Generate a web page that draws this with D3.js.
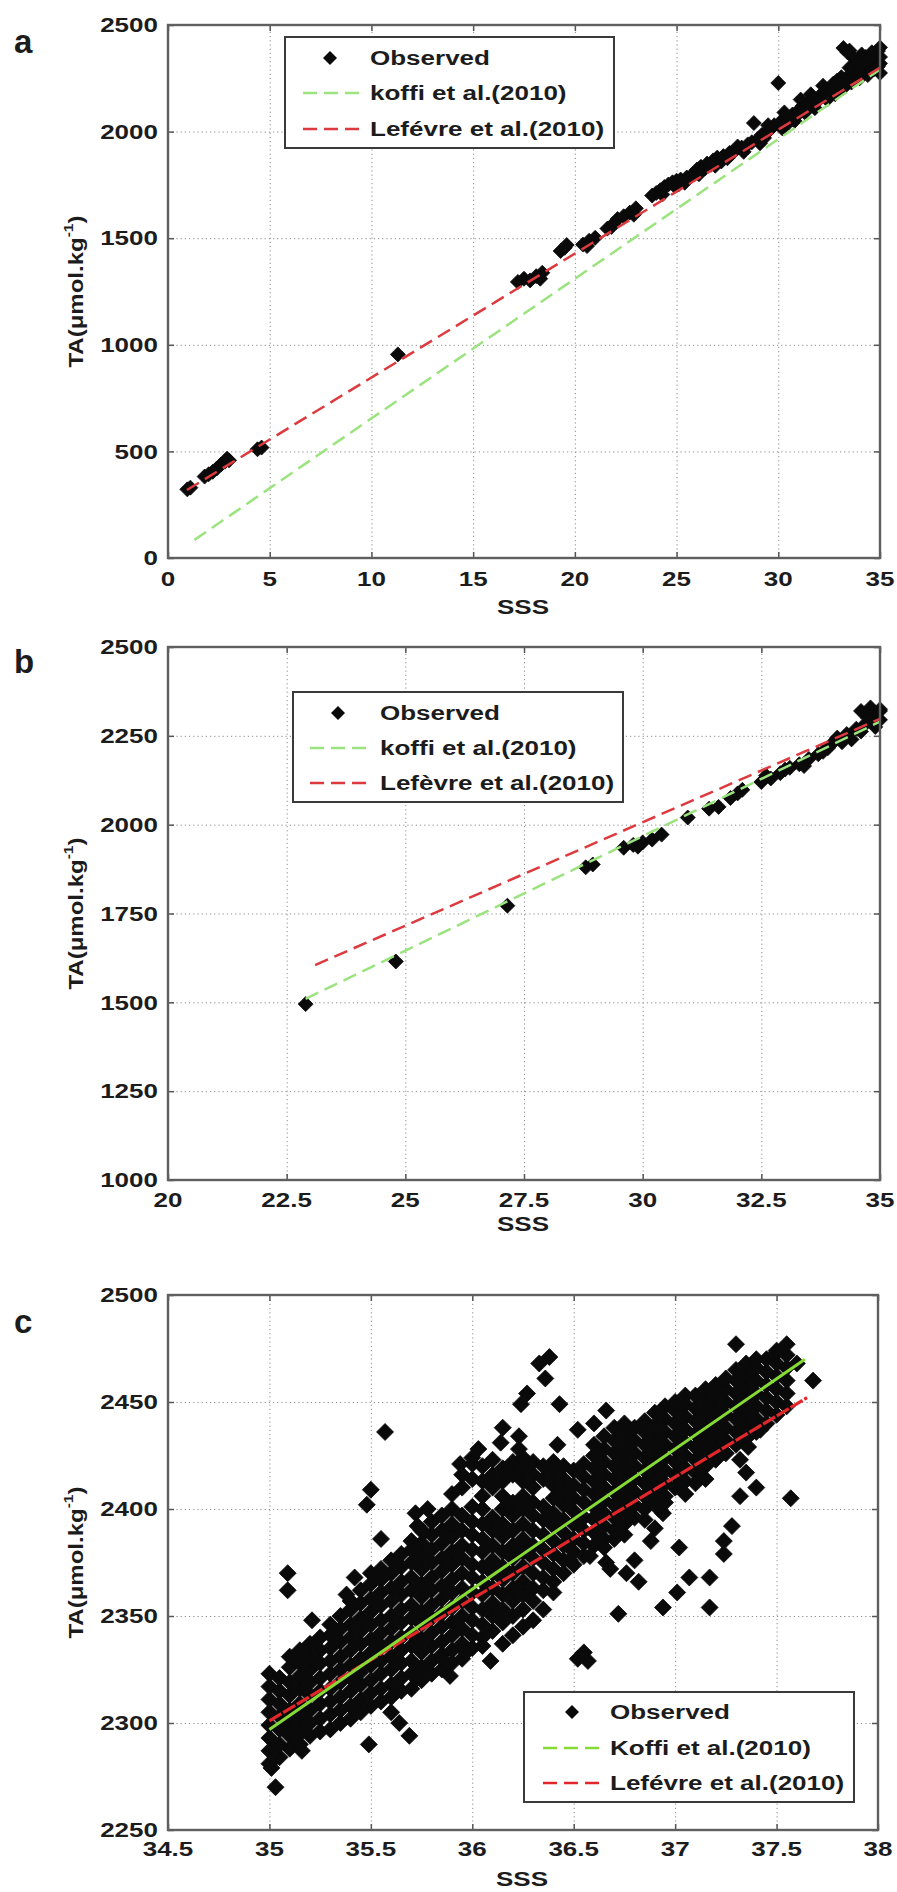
<!DOCTYPE html>
<html><head><meta charset="utf-8">
<script src="https://cdn.jsdelivr.net/npm/d3@7/dist/d3.min.js"></script>
<style>
body{margin:0;background:#fff}
svg{display:block}
text{font-family:"Liberation Sans",Arial,Helvetica,sans-serif;font-weight:bold;fill:#1c1c1c}
</style>
</head><body>
<svg id="chart" width="897" height="1892"></svg>
<script>
// ---------- tick values ----------
const xTicksA = [0,5,10,15,20,25,30,35];
const yTicksA = [0,500,1000,1500,2000,2500];
const xTicksB = [20,22.5,25,27.5,30,32.5,35];
const yTicksB = [1000,1250,1500,1750,2000,2250,2500];
const xTicksC = [34.5,35,35.5,36,36.5,37,37.5,38];
const yTicksC = [2250,2300,2350,2400,2450,2500];

// ---------- legend labels ----------
const legA = ["Observed","koffi et al.(2010)","Lefévre et al.(2010)"];
const legB = ["Observed","koffi et al.(2010)","Lefèvre et al.(2010)"];
const legC = ["Observed","Koffi et al.(2010)","Lefévre et al.(2010)"];

// ---------- fitted relations (end points) [SSS, TA] ----------
const koffiA = [[1.3,85],[35,2292]];
const lefA   = [[0.93,319],[35,2300]];
const koffiB = [[22.9,1510],[35,2290]];
const lefB   = [[23.1,1605],[35,2298]];
const koffiC = [[35,2297],[37.64,2470]];
const lefC   = [[35,2301],[37.65,2452]];

// ---------- observed points, panel a [SSS, TA] ----------
const obsA = [
[0.95,322],[1.1,330],[1.8,382],[2.0,393],[2.2,404],[2.4,420],[2.6,438],[2.8,452],[2.9,466],[3.0,458],
[4.4,510],[4.6,518],[11.3,955],
[17.2,1295],[17.5,1310],[17.8,1302],[18.1,1322],[18.4,1338],[18.3,1310],
[19.3,1440],[19.5,1455],[19.6,1468],
[20.4,1470],[20.7,1488],[21.0,1502],[20.6,1463],
[21.6,1545],[21.9,1568],[22.1,1590],[21.8,1553],
[22.4,1603],[22.7,1620],[23.0,1640],[22.9,1610],
[23.8,1700],[24.0,1712],[24.2,1725],[24.4,1740],[24.6,1752],[24.8,1762],[25.0,1770],[25.2,1775],[24.3,1705],[24.9,1745],[25.1,1752],
[25.5,1785],[25.8,1800],[26.0,1822],[26.2,1835],[26.5,1850],[26.8,1865],[27.0,1878],[26.4,1828],[26.7,1845],[25.7,1790],
[25.4,1760],[26.1,1800],[26.9,1840],[27.2,1860],
[27.3,1885],[27.6,1900],[27.9,1915],[28.2,1925],[28.5,1940],[27.7,1895],[28.0,1930],[28.3,1905],[27.5,1875],
[28.8,2040],[28.7,1950],[29.0,1965],[29.2,1985],[29.4,1995],[29.6,2010],[29.3,1970],[29.5,2030],[29.1,1945],
[30.0,2228],
[29.8,2030],[30.1,2045],[30.4,2062],[30.7,2080],[31.0,2100],[31.2,2120],[30.5,2042],[30.9,2075],[31.1,2150],[30.3,2090],
[30.2,2015],[30.8,2050],[31.3,2090],
[31.4,2130],[31.7,2150],[32.0,2165],[32.3,2180],[32.5,2200],[31.6,2175],[32.2,2215],[31.9,2140],[32.7,2225],
[31.8,2110],[32.4,2150],[32.8,2175],
[33.0,2230],[33.2,2392],[33.4,2372],[33.3,2248],[33.6,2262],[33.8,2278],[34.0,2290],[34.2,2302],[34.4,2318],[34.6,2335],
[34.8,2330],[35.0,2350],[34.9,2305],[34.7,2292],[34.5,2282],[34.3,2350],[34.1,2362],[33.7,2345],[33.5,2380],[34.9,2378],
[35.0,2275],[35.0,2320],[34.8,2362],[34.6,2372],[34.4,2298],[33.9,2325],[33.5,2300],[33.1,2255],[32.9,2240],[34.2,2330],
[34.7,2355],[35.0,2395],[34.5,2345],[33.2,2205],[33.6,2230],[34.0,2250],[34.4,2265]
];

// ---------- observed points, panel b [SSS, TA] ----------
const obsB = [
[22.9,1495],[24.8,1615],[27.15,1772],[28.8,1880],[28.95,1888],
[29.6,1935],[29.8,1943],[30.0,1950],[30.2,1958],[30.4,1972],[29.9,1938],
[30.95,2020],[31.4,2045],[31.6,2050],[31.85,2075],[32.0,2088],[32.1,2098],
[32.5,2120],[32.7,2130],[32.9,2145],[33.0,2155],[32.6,2138],
[33.1,2160],[33.3,2170],[33.5,2185],[33.7,2198],[33.9,2215],[34.0,2230],[33.4,2165],[33.8,2205],
[34.1,2245],[34.3,2255],[34.5,2270],[34.7,2285],[34.9,2300],[35.0,2320],[34.4,2240],[34.6,2262],
[34.8,2310],[34.9,2275],[35.0,2295],[34.2,2232],[34.75,2300],[34.6,2320],[34.8,2330],[35.0,2325]
];

// ---------- observed points, panel c: dense cloud read column by column [SSS, [TA...]] ----------
const obsCcols = [
[35.00,[2281,2287,2293,2299,2305,2311,2317,2323]],
[35.05,[2284,2290,2297,2303,2309,2315,2321]],
[35.10,[2288,2294,2300,2306,2313,2319,2326,2331]],
[35.15,[2290,2297,2303,2309,2316,2322,2328,2334]],
[35.20,[2294,2300,2306,2313,2319,2325,2331,2337]],
[35.25,[2296,2302,2309,2315,2321,2328,2334,2340]],
[35.30,[2297,2304,2310,2316,2323,2329,2335,2341,2346]],
[35.35,[2300,2306,2312,2319,2325,2331,2338,2344,2350]],
[35.40,[2302,2308,2315,2321,2327,2334,2340,2346,2353,2357]],
[35.45,[2305,2311,2318,2324,2330,2337,2343,2349,2356,2362]],
[35.50,[2308,2314,2320,2327,2333,2339,2346,2352,2358,2365,2370]],
[35.55,[2310,2316,2323,2329,2336,2342,2348,2355,2361,2367,2372]],
[35.60,[2312,2318,2325,2331,2338,2344,2350,2357,2363,2370,2376]],
[35.65,[2315,2321,2328,2334,2340,2347,2353,2360,2366,2373,2379]],
[35.70,[2316,2323,2329,2336,2342,2349,2355,2362,2368,2375,2381,2385]],
[35.75,[2320,2326,2333,2339,2346,2352,2359,2365,2372,2378,2384,2390]],
[35.80,[2323,2329,2336,2342,2349,2355,2362,2368,2375,2381,2388,2394]],
[35.85,[2325,2332,2338,2345,2351,2358,2364,2371,2377,2384,2390,2397]],
[35.90,[2328,2334,2341,2347,2354,2361,2367,2374,2380,2387,2393,2400,2407]],
[35.95,[2330,2337,2344,2350,2357,2363,2370,2377,2383,2390,2397,2410,2416]],
[36.00,[2335,2341,2348,2354,2361,2368,2374,2381,2388,2394,2401,2414,2421]],
[36.05,[2340,2346,2353,2360,2366,2373,2380,2386,2393,2400,2406,2413,2420]],
[36.10,[2343,2350,2356,2363,2370,2376,2383,2390,2396,2410,2416,2423]],
[36.15,[2347,2353,2360,2367,2373,2380,2387,2393,2400,2406,2413,2419]],
[36.20,[2350,2357,2363,2370,2377,2383,2390,2397,2403,2416,2422]],
[36.25,[2353,2360,2366,2373,2380,2386,2393,2400,2406,2413,2419,2424]],
[36.30,[2357,2363,2370,2377,2383,2390,2397,2403,2410,2416,2422]],
[36.35,[2362,2368,2375,2381,2388,2395,2401,2414,2420]],
[36.40,[2366,2372,2379,2385,2392,2398,2405,2411,2417,2422]],
[36.45,[2370,2376,2383,2389,2395,2402,2408,2414,2420]],
[36.50,[2374,2380,2386,2393,2399,2405,2411,2418]],
[36.55,[2378,2384,2390,2396,2403,2409,2415,2421]],
[36.60,[2383,2389,2395,2401,2407,2413,2419,2425,2430]],
[36.65,[2386,2392,2398,2404,2410,2416,2422,2428,2434]],
[36.70,[2390,2396,2402,2408,2414,2420,2426,2432,2438]],
[36.75,[2393,2399,2405,2411,2417,2423,2429,2435,2440]],
[36.80,[2396,2402,2408,2414,2420,2426,2432,2438]],
[36.85,[2400,2406,2412,2418,2424,2430,2436,2441]],
[36.90,[2403,2409,2415,2421,2427,2433,2439,2445]],
[36.95,[2406,2412,2418,2424,2430,2436,2442,2448]],
[37.00,[2410,2416,2422,2428,2434,2440,2446,2450]],
[37.05,[2413,2419,2425,2431,2437,2443,2449,2453]],
[37.10,[2417,2423,2429,2435,2441,2447,2453]],
[37.15,[2420,2426,2432,2438,2444,2450,2456]],
[37.20,[2423,2429,2435,2441,2447,2453,2458]],
[37.25,[2426,2432,2438,2444,2450,2456,2461]],
[37.30,[2430,2436,2442,2448,2454,2460,2465]],
[37.35,[2433,2439,2445,2451,2457,2463,2468]],
[37.40,[2436,2442,2448,2454,2460,2466,2470]],
[37.45,[2440,2446,2452,2458,2464,2470]],
[37.50,[2444,2450,2456,2462,2468,2473]],
[37.55,[2448,2454,2460,2466,2472]]
];
// ---------- observed points, panel c: scattered points away from the cloud ----------
const obsCscatter = [
[35.03,2270],[35.01,2279],[35.09,2370],[35.09,2362],[35.21,2348],[35.16,2287],[35.13,2293],
[35.49,2290],[35.60,2305],[35.69,2294],[35.64,2300],[35.73,2321],
[35.48,2402],[35.50,2409],[35.57,2436],[35.55,2386],[35.42,2368],[35.38,2360],
[35.78,2400],[35.73,2392],[35.76,2389],[35.72,2398],
[35.94,2421],[36.00,2424],[36.03,2428],
[36.15,2438],[36.14,2431],[36.23,2428],[36.23,2434],[36.24,2449],[36.27,2454],
[36.33,2468],[36.38,2471],[36.36,2461],[36.43,2449],[36.42,2430],[36.52,2437],[36.66,2446],[36.60,2440],
[37.30,2477],[37.55,2477],[37.68,2460],[37.60,2468],[37.50,2474],[37.42,2437],[37.32,2423],[37.36,2429],
[37.35,2417],[37.32,2406],[37.40,2410],[37.57,2405],[37.28,2392],[37.24,2385],[37.24,2379],
[37.02,2382],[37.07,2368],[37.17,2368],[37.01,2361],[36.94,2354],[37.17,2354],
[36.92,2400],[36.90,2391],[36.88,2385],[36.94,2398],
[36.76,2370],[36.80,2376],[36.82,2366],[36.66,2375],[36.68,2372],[36.58,2378],[36.72,2351],
[36.48,2376],[36.40,2361],[36.52,2330],[36.57,2329],[36.55,2333],
[36.09,2329],[36.15,2337],[35.89,2322],[35.97,2333],[36.20,2341],[35.85,2330],[36.30,2348],[36.35,2353],[36.05,2336],[36.25,2345],
[36.60,2396],[36.65,2382],[36.70,2386],[36.75,2388],[36.85,2395],
[36.95,2403],[37.05,2407],[37.10,2412],[37.15,2414]
];
const obsC = obsCcols.flatMap(([s, tas]) => tas.map(t => [s, t])).concat(obsCscatter);

// ---------- drawing ----------
const svg = d3.select("#chart");
const SX = 1.3;
function stretch(sel, f){
  sel.each(function(){
    const L = this.getComputedTextLength();
    d3.select(this).attr("textLength", L*f).attr("lengthAdjust","spacingAndGlyphs");
  });
}
function starPath(r){
  const k = r*0.5;
  return `M0,${-r}L${k},${-k}L${r},0L${k},${k}L0,${r}L${-k},${k}L${-r},0L${-k},${-k}Z`;
}
const fmt = v => String(v);

const panels = [
  {letter:"a", letterY:53, L:168, R:880, T:25, B:558, xd:[0,35], yd:[0,2500],
   xt:xTicksA, yt:yTicksA, pts:obsA, koffi:koffiA, lef:lefA, solid:false, mr:7.5,
   tickBase:586, sssBase:614, leg:{x:285,y:37,w:329,h:111,rows:[58,93,129],mx:330,lx0:303,lx1:363,tx:370}, labels:legA,
   green:"#9be37f", red:"#dc3a3f"},
  {letter:"b", letterY:673, L:168, R:880, T:647, B:1180, xd:[20,35], yd:[1000,2500],
   xt:xTicksB, yt:yTicksB, pts:obsB, koffi:koffiB, lef:lefB, solid:false, mr:7.5,
   tickBase:1207, sssBase:1231, leg:{x:293,y:692,w:330,h:110,rows:[713,748,783],mx:338,lx0:310,lx1:372,tx:380}, labels:legB,
   green:"#9be37f", red:"#dc3a3f"},
  {letter:"c", letterY:1333, L:168, R:878, T:1295, B:1830, xd:[34.5,38], yd:[2250,2500],
   xt:xTicksC, yt:yTicksC, pts:obsC, koffi:koffiC, lef:lefC, solid:true, mr:8.5,
   tickBase:1856, sssBase:1886, leg:{x:524,y:1692,w:330,h:110,rows:[1712,1748,1783],mx:572,lx0:543,lx1:603,tx:610}, labels:legC,
   green:"#86dc34", red:"#e2262a"}
];

panels.forEach(p => {
  const x = d3.scaleLinear().domain(p.xd).range([p.L, p.R]);
  const y = d3.scaleLinear().domain(p.yd).range([p.B, p.T]);
  const g = svg.append("g");
  const W = p.R - p.L, H = p.B - p.T;

  // grid
  const gx = g.append("g").attr("transform", `translate(0,${p.B})`)
    .call(d3.axisBottom(x).tickValues(p.xt).tickSize(-H).tickFormat(""));
  const gy = g.append("g").attr("transform", `translate(${p.L},0)`)
    .call(d3.axisLeft(y).tickValues(p.yt).tickSize(-W).tickFormat(""));
  [gx, gy].forEach(a => {
    a.select(".domain").remove();
    a.selectAll("line").attr("stroke", "#8c8c8c").attr("stroke-width", 1).attr("stroke-dasharray", "1.2,3");
  });

  // inward tick marks on all sides
  const tk = 6;
  const axes = [
    [d3.axisBottom(x).tickValues(p.xt), `translate(0,${p.B})`],
    [d3.axisTop(x).tickValues(p.xt), `translate(0,${p.T})`],
    [d3.axisLeft(y).tickValues(p.yt), `translate(${p.L},0)`],
    [d3.axisRight(y).tickValues(p.yt), `translate(${p.R},0)`]
  ];
  axes.forEach(([ax, tr]) => {
    const a = g.append("g").attr("transform", tr).call(ax.tickSize(-tk).tickFormat(""));
    a.select(".domain").remove();
    a.selectAll("line").attr("stroke", "#555").attr("stroke-width", 1.5);
  });

  // observed points
  g.append("g").selectAll("path").data(p.pts).join("path")
    .attr("d", starPath(p.mr))
    .attr("transform", d => `translate(${x(d[0])},${y(d[1])})`)
    .attr("fill", "#0a0a0a").attr("stroke", "#0a0a0a").attr("stroke-width", 0.8)
    .attr("stroke-linejoin", "round");

  // fitted lines
  const line = d3.line().x(d => x(d[0])).y(d => y(d[1]));
  if (p.solid) {
    g.append("path").datum(p.lef).attr("d", line).attr("fill", "none")
      .attr("stroke", p.red).attr("stroke-width", 3.2).attr("stroke-dasharray", "14,2");
    g.append("path").datum(p.koffi).attr("d", line).attr("fill", "none")
      .attr("stroke", p.green).attr("stroke-width", 3);
  } else {
    g.append("path").datum(p.koffi).attr("d", line).attr("fill", "none")
      .attr("stroke", p.green).attr("stroke-width", 2.5).attr("stroke-dasharray", "14,7");
    g.append("path").datum(p.lef).attr("d", line).attr("fill", "none")
      .attr("stroke", p.red).attr("stroke-width", 2.5).attr("stroke-dasharray", "14,7");
  }

  // frame
  g.append("rect").attr("x", p.L).attr("y", p.T).attr("width", W).attr("height", H)
    .attr("fill", "none").attr("stroke", "#5f5f5f").attr("stroke-width", 2.4);

  // tick labels
  const xl = g.append("g").selectAll("text").data(p.xt).join("text")
    .attr("x", d => x(d)).attr("y", p.tickBase).attr("text-anchor", "middle")
    .attr("font-size", 20).text(fmt);
  stretch(xl, SX);
  const yl = g.append("g").selectAll("text").data(p.yt).join("text")
    .attr("x", p.L - 10).attr("y", d => y(d)).attr("dy", "0.36em").attr("text-anchor", "end")
    .attr("font-size", 20).text(fmt);
  stretch(yl, SX);

  // axis titles
  const sss = g.append("text").attr("x", (p.L + p.R)/2 - 1).attr("y", p.sssBase)
    .attr("text-anchor", "middle").attr("font-size", 20).text("SSS");
  stretch(sss, SX);
  const cy = (p.T + p.B)/2;
  const yt = g.append("text").attr("transform", `translate(76,${cy}) rotate(-90)`)
    .attr("text-anchor", "middle").attr("dy", "0.36em").attr("font-size", 20);
  yt.append("tspan").text("TA(μmol.kg");
  yt.append("tspan").attr("font-size", 13).attr("dy", "-0.75em").text("-1");
  yt.append("tspan").attr("dy", "0.5em").text(")");
  stretch(yt, 1.2);

  // panel letter
  g.append("text").attr("x", 14).attr("y", p.letterY).attr("font-size", 33).text(p.letter);

  // legend
  const lg = p.leg;
  g.append("rect").attr("x", lg.x).attr("y", lg.y).attr("width", lg.w).attr("height", lg.h)
    .attr("fill", "#fff").attr("stroke", "#3a3a3a").attr("stroke-width", 2);
  g.append("path").attr("d", starPath(7)).attr("transform", `translate(${lg.mx},${lg.rows[0]})`).attr("fill", "#0a0a0a");
  g.append("line").attr("x1", lg.lx0).attr("x2", lg.lx1).attr("y1", lg.rows[1]).attr("y2", lg.rows[1])
    .attr("stroke", p.green).attr("stroke-width", 2.5).attr("stroke-dasharray", "14,7");
  g.append("line").attr("x1", lg.lx0).attr("x2", lg.lx1).attr("y1", lg.rows[2]).attr("y2", lg.rows[2])
    .attr("stroke", p.red).attr("stroke-width", 2.5).attr("stroke-dasharray", "14,7");
  const lt2 = g.append("g").selectAll("text").data(p.labels).join("text")
    .attr("x", lg.tx).attr("y", (d, i) => lg.rows[i]).attr("dy", "0.36em")
    .attr("font-size", 20).text(d => d);
  stretch(lt2, SX);
});
</script>
</body></html>
